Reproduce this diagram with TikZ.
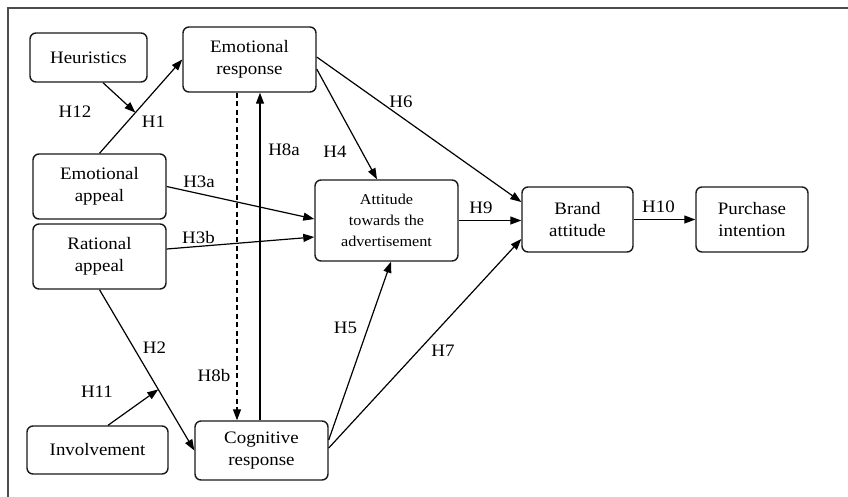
\documentclass[tikz,border=0pt]{standalone}
\usepackage{fontspec}
\setmainfont[FakeStretch=1.08]{Liberation Serif}
\usetikzlibrary{arrows.meta,calc}
\begin{document}
\begin{tikzpicture}[x=1pt,y=-1pt,
 box/.style={draw=black!90, line width=1.4pt, rounded corners=6pt, inner sep=0pt, align=center, font=\fontsize{17.5}{22}\selectfont},
 smallbox/.style={box, font=\fontsize{15}{21}\selectfont},
 lbl/.style={inner sep=0pt, anchor=base, font=\fontsize{17.5}{22}\selectfont},
 arr/.style={line width=1.2pt, -{Triangle[length=11pt,width=8pt]}}]
\useasboundingbox (0,0) rectangle (848,496);
\draw[line width=1.4pt, black!70] (8,500) -- (8,8) -- (852,8);

\node[box, minimum width=117pt, minimum height=49pt] (heu) at (88.5,57.5) {Heuristics};
\node[box, minimum width=133pt, minimum height=65pt] (er) at (249.5,59.5) {Emotional\\response};
\node[box, minimum width=133pt, minimum height=65pt] (ea) at (99.5,186.5) {Emotional\\appeal};
\node[box, minimum width=133pt, minimum height=65pt] (ra) at (99.5,256.5) {Rational\\appeal};
\node[box, minimum width=141pt, minimum height=48pt] (inv) at (97.5,450) {Involvement};
\node[box, minimum width=133pt, minimum height=59pt] (cr) at (261.5,450.5) {Cognitive\\response};
\node[smallbox, minimum width=143pt, minimum height=81pt] (att) at (386.5,220.5) {Attitude\\towards the\\advertisement};
\node[box, minimum width=111pt, minimum height=65pt] (ba) at (577.5,219.5) {Brand\\attitude};
\node[box, minimum width=112pt, minimum height=65pt] (pi) at (752,219.5) {Purchase\\intention};

\coordinate (h1m) at ($(ea.north)!0.434!(er.west)$);
\coordinate (h2m) at ($(ra.south)!0.62!(cr.west)$);

\draw[arr] (ea.north) -- (er.west);
\draw[arr] ($(heu.south)+(14.5,0)$) -- (h1m);
\draw[arr] (ra.south) -- (cr.west);
\draw[arr] ($(inv.north)+(10.5,0)$) -- (h2m);
\draw[arr] (ea.east) -- ($(att.west)+(0,-1.5)$);
\draw[arr] ($(ra.east)+(0,-7.5)$) -- ($(att.west)+(0,16.5)$);
\draw[arr] ($(cr.north)+(-1.5,0)$) -- ($(er.south)+(10.5,0)$);
\draw[arr, dash pattern=on 5pt off 3.5pt] ($(er.south)+(-12.5,0)$) -- ($(cr.north)+(-24.5,0)$);
\draw[arr] ($(er.east)+(0,9.5)$) -- ($(att.north)+(-9.5,0)$);
\draw[arr] ($(er.east)+(0,-2.5)$) -- ($(ba.west)+(0,-17.5)$);
\draw[arr] (att.east) -- (att.east -| ba.west);
\draw[arr] (ba.east) -- (pi.west);
\draw[arr] ($(cr.east)+(0,-10.5)$) -- ($(att.south)+(4.5,0)$);
\draw[arr] ($(cr.east)+(0,-2.5)$) -- ($(ba.west)+(0,19.5)$);

\node[lbl] (l12) at (75,117) {H12};
\node[lbl] (l1) at (153.5,127) {H1};
\node[lbl] (l3a) at (199,187) {H3a};
\node[lbl] (l3b) at (198.5,243) {H3b};
\node[lbl] (l8a) at (284,155) {H8a};
\node[lbl] (l4) at (335,157) {H4};
\node[lbl] (l6) at (401,107) {H6};
\node[lbl] (l9) at (481,213) {H9};
\node[lbl] (l10) at (658.5,212) {H10};
\node[lbl] (l5) at (345.5,333) {H5};
\node[lbl] (l7) at (443,356) {H7};
\node[lbl] (l2) at (154.5,353) {H2};
\node[lbl] (l8b) at (214,381) {H8b};
\node[lbl] (l11) at (97,397) {H11};
\end{tikzpicture}
\end{document}
